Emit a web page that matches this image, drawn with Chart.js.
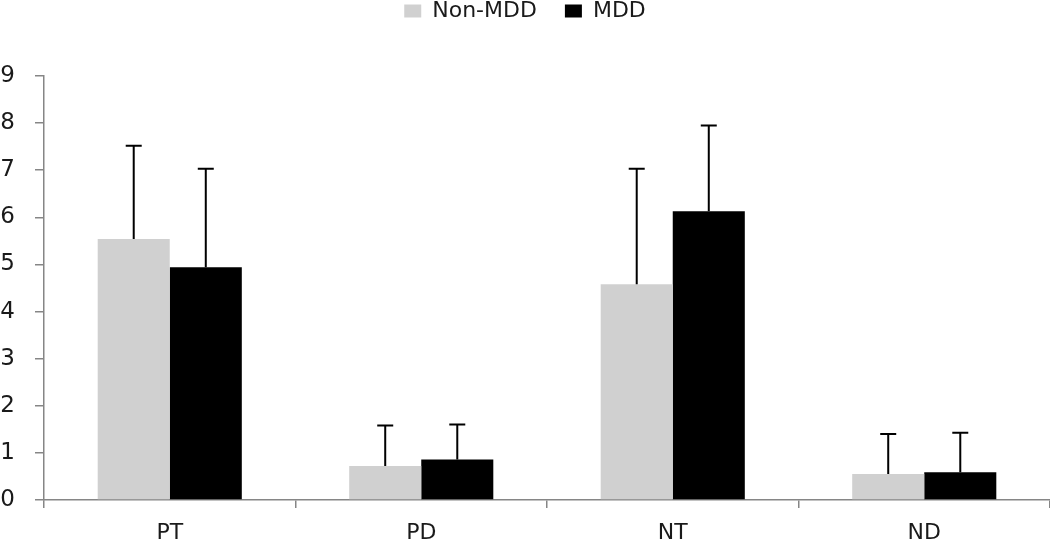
<!DOCTYPE html>
<html>
<head>
<meta charset="utf-8">
<script src="https://cdn.jsdelivr.net/npm/chart.js@4"></script>
<style>
    html, body { margin: 0; padding: 0; background: #fff; }
    #wrap { width: 1050px; height: 543px; position: relative; }
</style>
</head>
<body>
<div id="wrap"><canvas id="barChart"></canvas></div>
<script>
const categories = ['PT', 'PD', 'NT', 'ND'];
const nonMddMeans = [5.54, 0.72, 4.58, 0.55];
const nonMddErrors = [1.98, 0.86, 2.45, 0.85];
const mddMeans = [4.94, 0.86, 6.13, 0.59];
const mddErrors = [2.09, 0.74, 1.82, 0.84];
const yTicks = [0, 1, 2, 3, 4, 5, 6, 7, 8, 9];

(() => {
    const canvas = document.getElementById('barChart');
    if (!canvas || typeof Chart === 'undefined') {
        return;
    }

    Chart.defaults.font.family = '"DejaVu Sans", Verdana, sans-serif';
    Chart.defaults.color = '#1a1a1a';

    const axisColor = '#868686';

    // upward-only error bars with a small cap
    const errorBars = {
        id: 'errorBars',
        afterDatasetsDraw(chart) {
            const ctx = chart.ctx;
            const yScale = chart.scales.y;
            chart.data.datasets.forEach((dataset, i) => {
                const meta = chart.getDatasetMeta(i);
                meta.data.forEach((bar, j) => {
                    const top = yScale.getPixelForValue(dataset.data[j] + dataset.errors[j]);
                    ctx.save();
                    ctx.strokeStyle = '#000';
                    ctx.lineWidth = 2;
                    ctx.beginPath();
                    ctx.moveTo(bar.x, bar.y);
                    ctx.lineTo(bar.x, top);
                    ctx.moveTo(bar.x - 8, top);
                    ctx.lineTo(bar.x + 8, top);
                    ctx.stroke();
                    ctx.restore();
                });
            });
        },
    };

    // legend keeps its item spacing but the plot starts lower
    const legendSpace = {
        id: 'legendSpace',
        beforeInit(chart) {
            const fit = chart.legend.fit;
            chart.legend.fit = function () {
                fit.bind(chart.legend)();
                this.height = 104;
            };
        },
    };

    new Chart(canvas.getContext('2d'), {
        type: 'bar',
        data: {
            labels: categories,
            datasets: [
                {
                    label: 'Non-MDD',
                    data: nonMddMeans,
                    errors: nonMddErrors,
                    backgroundColor: '#d0d0d0',
                    categoryPercentage: 0.573,
                    barPercentage: 1,
                },
                {
                    label: 'MDD',
                    data: mddMeans,
                    errors: mddErrors,
                    backgroundColor: '#000000',
                    categoryPercentage: 0.573,
                    barPercentage: 1,
                },
            ],
        },
        options: {
            responsive: true,
            maintainAspectRatio: false,
            animation: false,
            layout: {
                padding: { top: -28, right: 0, bottom: 0, left: 0 },
            },
            scales: {
                x: {
                    afterFit(scale) {
                        scale.height = 43;
                    },
                    grid: {
                        drawOnChartArea: false,
                        drawTicks: true,
                        tickLength: 8,
                        color: axisColor,
                        lineWidth: 1.5,
                    },
                    border: { color: axisColor, width: 1.5 },
                    ticks: {
                        padding: 12,
                        font: { size: 22 },
                    },
                },
                y: {
                    min: 0,
                    max: 9,
                    afterFit(scale) {
                        scale.width = 44;
                    },
                    afterBuildTicks(scale) {
                        scale.ticks = yTicks.map((v) => ({ value: v }));
                    },
                    grid: {
                        drawOnChartArea: false,
                        drawTicks: true,
                        tickLength: 9,
                        color: axisColor,
                        lineWidth: 1.5,
                    },
                    border: { color: axisColor, width: 1.5 },
                    ticks: {
                        padding: 20,
                        font: { size: 23 },
                    },
                },
            },
            plugins: {
                legend: {
                    position: 'top',
                    labels: {
                        boxWidth: 17,
                        boxHeight: 13,
                        padding: 28,
                        font: { size: 22 },
                    },
                },
                tooltip: { enabled: false },
            },
        },
        plugins: [errorBars, legendSpace],
    });
})();
</script>
</body>
</html>
